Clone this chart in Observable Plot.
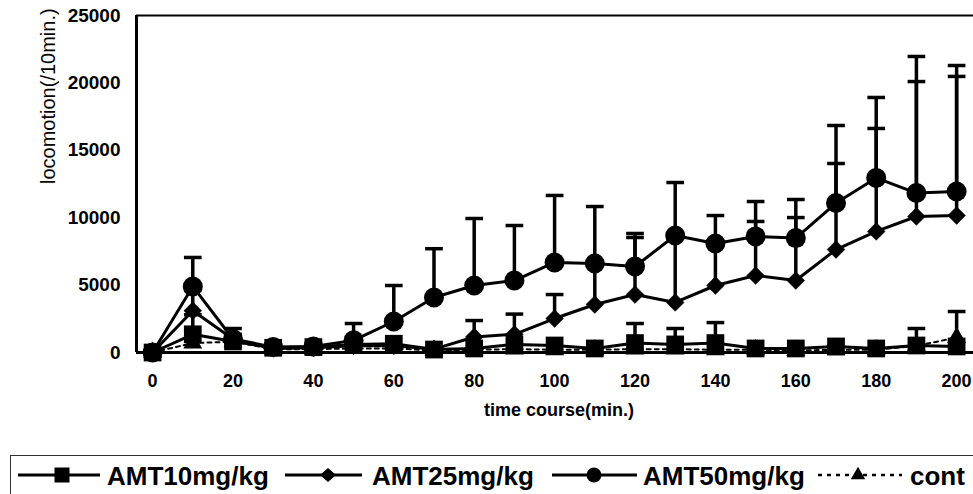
<!DOCTYPE html>
<html><head><meta charset="utf-8">
<script src="https://cdn.jsdelivr.net/npm/d3@7"></script>
<script src="https://cdn.jsdelivr.net/npm/@observablehq/plot@0.6"></script>
<style>
body{margin:0;background:#fff;width:973px;height:494px;overflow:hidden;position:relative;font-family:"Liberation Sans",Arial,sans-serif}
#chart{position:absolute;left:0;top:0}
#legend{position:absolute;left:10px;top:455px}
</style></head><body>
<div id="chart"></div><div id="legend"></div>
<script>
// ---- data ----
const time = [0,10,20,30,40,50,60,70,80,90,100,110,120,130,140,150,160,170,180,190,200];
const seriesNames = ["AMT10mg/kg","AMT25mg/kg","AMT50mg/kg","cont"];
const amt10 = [0,1350,820,350,400,600,650,220,300,600,520,300,700,600,700,300,300,450,300,520,450];
const amt10Top = [null,2800,null,null,null,null,null,null,null,null,null,null,2150,1780,2220,null,null,null,null,1780,null];
const amt25 = [0,3100,1000,300,350,500,500,250,1150,1350,2520,3560,4300,3710,4970,5710,5340,7640,8980,10090,10160];
const amt25Top = [null,4600,null,null,null,null,null,null,2370,2850,4300,6600,8530,8500,8000,9720,10010,14020,16620,20100,20480];
const amt50 = [0,4900,1000,400,450,900,2300,4080,4970,5340,6680,6600,6380,8680,8090,8610,8490,11090,12950,11830,11940];
const amt50Top = [null,7050,1780,null,null,2150,4970,7700,9940,9420,11650,10830,8830,12610,10160,11200,11350,16840,18920,21960,21290];
const cont = [0,700,800,250,250,300,300,150,200,250,200,200,250,250,200,200,150,200,200,500,1100];
const contTop = [null,null,null,null,null,null,null,null,null,null,null,null,null,null,null,null,null,null,null,null,3040];
const xTicks = [0,20,40,60,80,100,120,140,160,180,200];
const yTicks = [0,5000,10000,15000,20000,25000];
const xTitle = "time course(min.)";
const yTitle = "locomotion(/10min.)";

const means = [amt10, amt25, amt50, cont];
const tops = [amt10Top, amt25Top, amt50Top, contTop];
const rows = seriesNames.map((s, i) => time.map((t, j) => ({series: s, t, v: means[i][j], top: tops[i][j]})));
const errRows = rows.flat().filter(d => d.top != null);

const X_DOMAIN = [-4, 204.2];
const Y_DOMAIN = [0, 25000];
const CAP = 2.2;

const chart = Plot.plot({
  width: 973, height: 430,
  marginTop: 15, marginBottom: 78, marginLeft: 136, marginRight: 0,
  x: {domain: X_DOMAIN, axis: null},
  y: {domain: Y_DOMAIN, axis: null},
  style: {fontFamily: '"Liberation Sans", Arial, sans-serif', background: "white", color: "black", overflow: "visible"},
  marks: [
    Plot.axisY({ticks: yTicks, tickSize: 0, tickPadding: 16, fontSize: 19, fontWeight: "bold", tickFormat: d3.format("d"), label: null}),
    Plot.axisX({ticks: xTicks, tickSize: 0, tickPadding: 22, fontSize: 18, fontWeight: "bold", tickFormat: d3.format("d"), label: null}),
    Plot.text([yTitle], {frameAnchor: "left", rotate: -90, dx: -88, fontSize: 20}),
    Plot.text([xTitle], {frameAnchor: "bottom", lineAnchor: "top", dy: 51, dx: 4, fontSize: 18, fontWeight: "bold"}),
    Plot.ruleY([Y_DOMAIN[1]], {stroke: "black", strokeWidth: 2}),
    Plot.ruleY([Y_DOMAIN[0]], {stroke: "black", strokeWidth: 3}),
    Plot.ruleX([X_DOMAIN[0]], {stroke: "black", strokeWidth: 3}),
    Plot.ruleX(errRows, {x: "t", y1: "v", y2: "top", stroke: "black", strokeWidth: 3.5}),
    Plot.link(errRows, {x1: d => d.t - CAP, x2: d => d.t + CAP, y1: "top", y2: "top", stroke: "black", strokeWidth: 3.5}),
    Plot.line(rows[3], {x: "t", y: "v", stroke: "black", strokeWidth: 2, strokeDasharray: "4,4"}),
    Plot.line(rows[0], {x: "t", y: "v", stroke: "black", strokeWidth: 3}),
    Plot.line(rows[1], {x: "t", y: "v", stroke: "black", strokeWidth: 3}),
    Plot.line(rows[2], {x: "t", y: "v", stroke: "black", strokeWidth: 3}),
    Plot.dot(rows[3], {x: "t", y: "v", symbol: "triangle", r: 7, fill: "black"}),
    Plot.dot(rows[0], {x: "t", y: "v", symbol: "square", r: 10, fill: "black"}),
    Plot.dot(rows[1], {x: "t", y: "v", symbol: "diamond2", r: 8, fill: "black", stroke: "black", strokeWidth: 0.5}),
    Plot.dot(rows[2], {x: "t", y: "v", symbol: "circle", r: 10, fill: "black"})
  ]
});
document.getElementById("chart").appendChild(chart);

// ---- legend ----
const lg = d3.select("#legend").append("svg").attr("width", 973).attr("height", 45)
  .style("font-family", '"Liberation Sans", Arial, sans-serif');
lg.append("rect").attr("x", 0.5).attr("y", 0.5).attr("width", 1000).attr("height", 100)
  .attr("fill", "none").attr("stroke", "#333").attr("stroke-width", 1);
const items = [
  {name: seriesNames[0], x0: 8, x1: 90, cx: 52, tx: 97, sym: d3.symbolSquare, size: 225, dash: null},
  {name: seriesNames[1], x0: 275, x1: 352, cx: 318, tx: 362, sym: "diamond", size: 0, dash: null},
  {name: seriesNames[2], x0: 542, x1: 627, cx: 584, tx: 633, sym: d3.symbolCircle, size: Math.PI * 56, dash: null},
  {name: seriesNames[3], x0: 808, x1: 892, cx: 848, tx: 900, sym: d3.symbolTriangle, size: 90, dash: "4,5"}
];
const ly = 20;
for (const it of items) {
  lg.append("line").attr("x1", it.x0).attr("x2", it.x1).attr("y1", ly).attr("y2", ly)
    .attr("stroke", "black").attr("stroke-width", it.dash ? 2.5 : 3).attr("stroke-dasharray", it.dash);
  if (it.sym === "diamond") {
    lg.append("path").attr("d", `M${it.cx},${ly-7}L${it.cx+8},${ly}L${it.cx},${ly+7}L${it.cx-8},${ly}Z`).attr("fill", "black");
  } else {
    lg.append("path").attr("d", d3.symbol(it.sym, it.size)()).attr("transform", `translate(${it.cx},${ly})`).attr("fill", "black");
  }
  lg.append("text").attr("x", it.tx).attr("y", 30).attr("font-size", 26).attr("font-weight", "bold").text(it.name);
}
</script>
</body></html>
